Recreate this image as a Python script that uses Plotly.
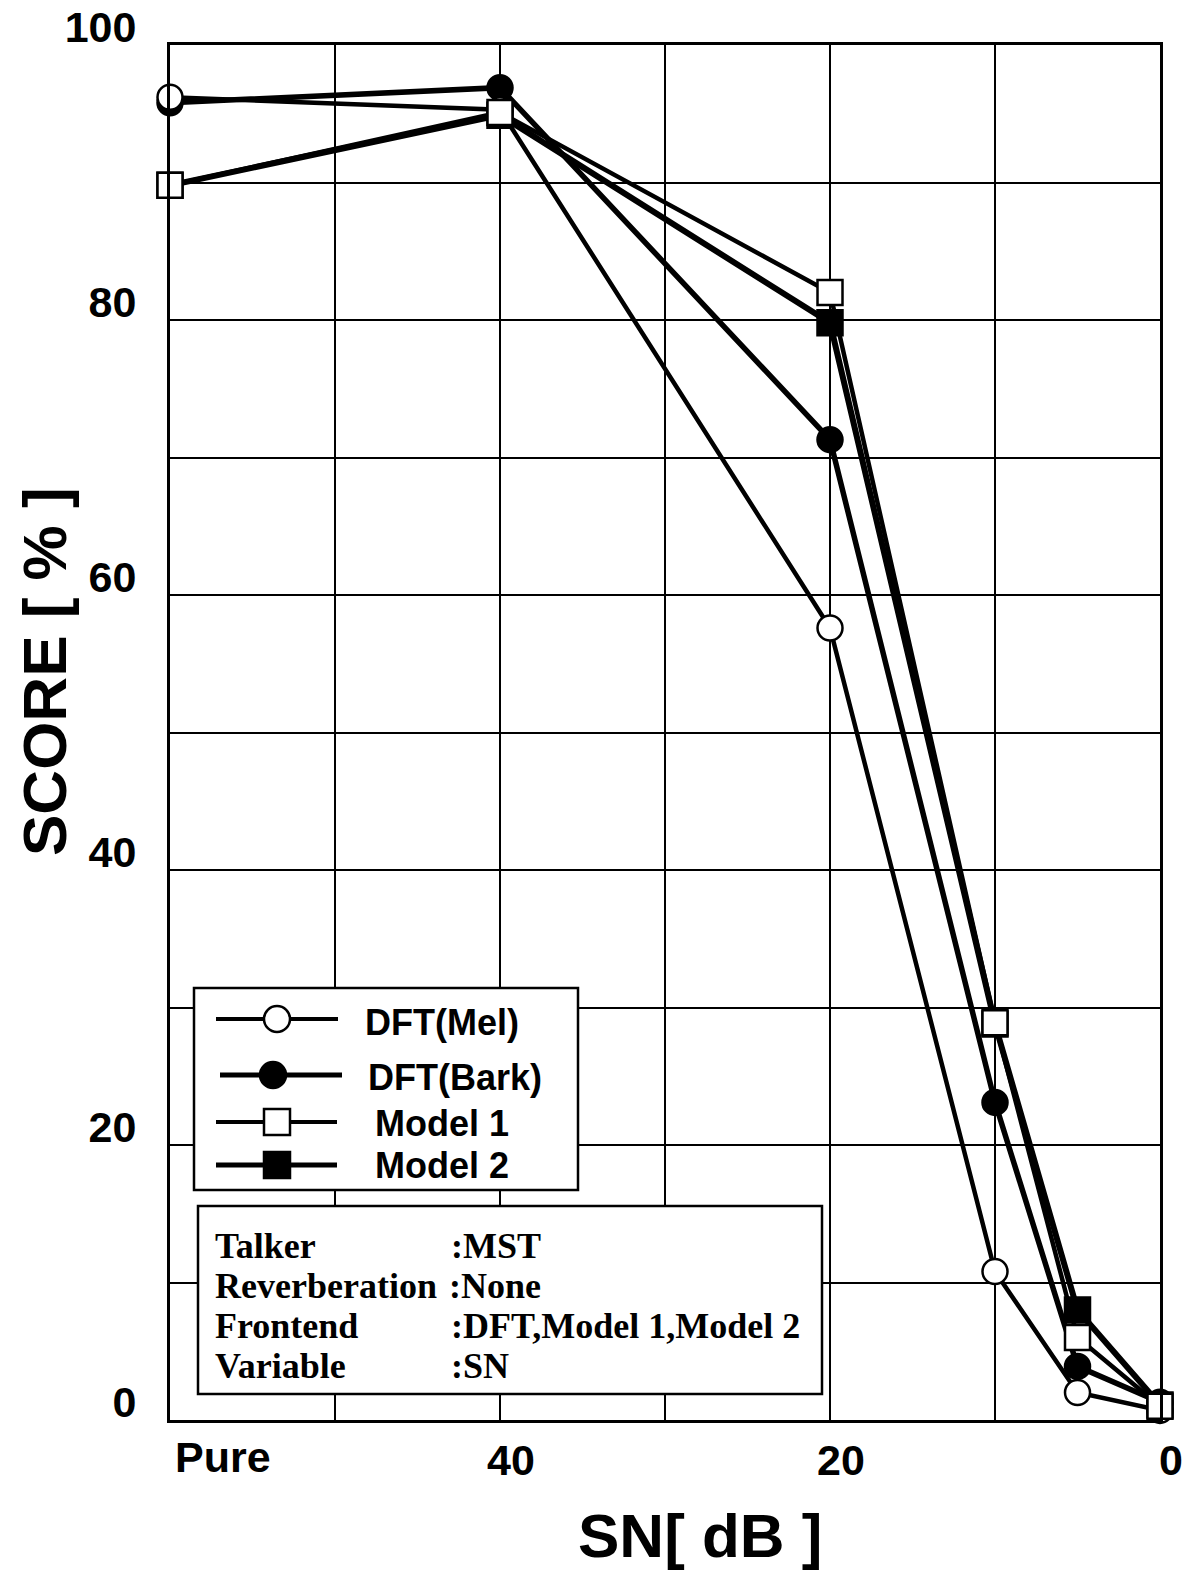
import plotly.graph_objects as go

# ---------------- data ----------------
sn = [60, 40, 20, 10, 5, 0]          # 60 stands for "Pure"
x_tickvals = [60, 50, 40, 30, 20, 10, 0]
x_ticktext = ["", "", "40", "", "20", "", "0"]
y_tickvals = [0, 10, 20, 30, 40, 50, 60, 70, 80, 90, 100]
y_ticktext = ["0", "", "20", "", "40", "", "60", "", "80", "", "100"]

dft_mel = [96.2, 95.3, 57.6, 10.8, 2.0, 0.7]
dft_bark = [95.8, 96.9, 71.3, 23.1, 3.9, 1.3]
model1 = [89.8, 95.1, 82.0, 28.9, 6.0, 1.0]
model2 = [89.8, 94.9, 79.8, 28.8, 8.0, 1.1]

legend_names = ["DFT(Mel)", "DFT(Bark)", "Model 1", "Model 2"]
info_keys = ["Talker", "Reverberation", "Frontend", "Variable"]
info_vals = [":MST", ":None", ":DFT,Model 1,Model 2", ":SN"]

# ---------------- geometry ----------------
W, H = 1204, 1570
L, R, T, B = 170, 44, 45, 150
PW, PH = W - L - R, H - T - B


def PX(x):
    return (x - L) / PW


def PY(y):
    return (H - B - y) / PH


SANS = "Liberation Sans, Arial, Helvetica, sans-serif"
SERIF = "Liberation Serif, Times New Roman, serif"

fig = go.Figure()

styles = [
    (model2, "Model 2", "square", "black", 6.0),
    (dft_bark, "DFT(Bark)", "circle", "black", 5.5),
    (dft_mel, "DFT(Mel)", "circle", "white", 4.5),
    (model1, "Model 1", "square", "white", 4.5),
]
for ys, name, sym, fill, lw in styles:
    fig.add_trace(go.Scatter(
        x=sn, y=ys, name=name, mode="lines+markers",
        line=dict(color="black", width=lw),
        marker=dict(symbol=sym, size=25, color=fill,
                    line=dict(color="black", width=2.5)),
        cliponaxis=False, showlegend=False,
    ))

shapes = []
annotations = []

# legend box
shapes.append(dict(type="rect", xref="paper", yref="paper",
                   x0=PX(194), x1=PX(578), y0=PY(1190), y1=PY(988),
                   line=dict(color="black", width=2.5), fillcolor="white",
                   layer="above"))
leg_rows = [
    (1019, 216, 338, 277, "circle", "white", 4, 363, 1022),
    (1075, 220, 342, 273, "circle", "black", 5, 366, 1077),
    (1122, 216, 337, 277, "rect", "white", 4, 373, 1123),
    (1165, 216, 337, 277, "rect", "black", 5, 373, 1165),
]
for (ly, lx0, lx1, mx, mtype, mfill, mlw, tx, ty), name in zip(leg_rows, legend_names):
    shapes.append(dict(type="line", xref="paper", yref="paper",
                       x0=PX(lx0), x1=PX(lx1), y0=PY(ly), y1=PY(ly),
                       line=dict(color="black", width=mlw), layer="above"))
    shapes.append(dict(type=mtype, xref="paper", yref="paper",
                       xsizemode="pixel", ysizemode="pixel",
                       xanchor=PX(mx), yanchor=PY(ly),
                       x0=-13, x1=13, y0=-13, y1=13,
                       line=dict(color="black", width=2.5), fillcolor=mfill,
                       layer="above"))
    annotations.append(dict(text=name, xref="paper", yref="paper",
                            x=PX(tx), y=PY(ty), xanchor="left", yanchor="middle",
                            showarrow=False,
                            font=dict(family=SANS, size=36, color="black", weight="bold")))

# info box
shapes.append(dict(type="rect", xref="paper", yref="paper",
                   x0=PX(198), x1=PX(822), y0=PY(1394), y1=PY(1206),
                   line=dict(color="black", width=2.5), fillcolor="white",
                   layer="above"))
val_x = [449, 447, 449, 449]
for i, (k, v) in enumerate(zip(info_keys, info_vals)):
    yy = 1246 + 40 * i
    annotations.append(dict(text=k, xref="paper", yref="paper",
                            x=PX(213), y=PY(yy), xanchor="left", yanchor="middle",
                            showarrow=False,
                            font=dict(family=SERIF, size=36, color="black", weight="bold")))
    annotations.append(dict(text=v, xref="paper", yref="paper",
                            x=PX(val_x[i]), y=PY(yy), xanchor="left", yanchor="middle",
                            showarrow=False,
                            font=dict(family=SERIF, size=36, color="black", weight="bold")))

# "Pure" tick label
annotations.append(dict(text="Pure", xref="x", yref="paper", x=60, y=0,
                        xanchor="left", yanchor="top", xshift=3, yshift=-11,
                        showarrow=False,
                        font=dict(family=SANS, size=43, color="black", weight="bold")))
# axis titles
annotations.append(dict(text="SCORE [ % ]", xref="paper", yref="paper",
                        x=PX(44), y=PY(672), xanchor="center", yanchor="middle",
                        textangle=-90, showarrow=False,
                        font=dict(family=SANS, size=62, color="black", weight="bold")))
annotations.append(dict(text="SN[ dB ]", xref="paper", yref="paper",
                        x=PX(700), y=PY(1535), xanchor="center", yanchor="middle",
                        showarrow=False,
                        font=dict(family=SANS, size=62, color="black", weight="bold")))

fig.update_layout(
    width=W, height=H,
    margin=dict(l=L, r=R, t=T, b=B),
    paper_bgcolor="white", plot_bgcolor="white",
    showlegend=False,
    shapes=shapes, annotations=annotations,
    xaxis=dict(range=[60, 0], tickmode="array", tickvals=x_tickvals, ticktext=x_ticktext,
               showgrid=True, gridcolor="black", gridwidth=2,
               showline=True, linecolor="black", linewidth=3, mirror=True,
               zeroline=False, ticks="", ticklabelstandoff=0, ticklabelshift=-11,
               automargin=False,
               tickfont=dict(family=SANS, size=43, color="black", weight="bold")),
    yaxis=dict(range=[0, 100], tickmode="array", tickvals=y_tickvals, ticktext=y_ticktext,
               showgrid=True, gridcolor="black", gridwidth=2,
               showline=True, linecolor="black", linewidth=3, mirror=True,
               zeroline=False, ticks="", ticklabelstandoff=22, ticklabelshift=-18,
               automargin=False,
               tickfont=dict(family=SANS, size=43, color="black", weight="bold")),
)

fig.write_html("out.html")
